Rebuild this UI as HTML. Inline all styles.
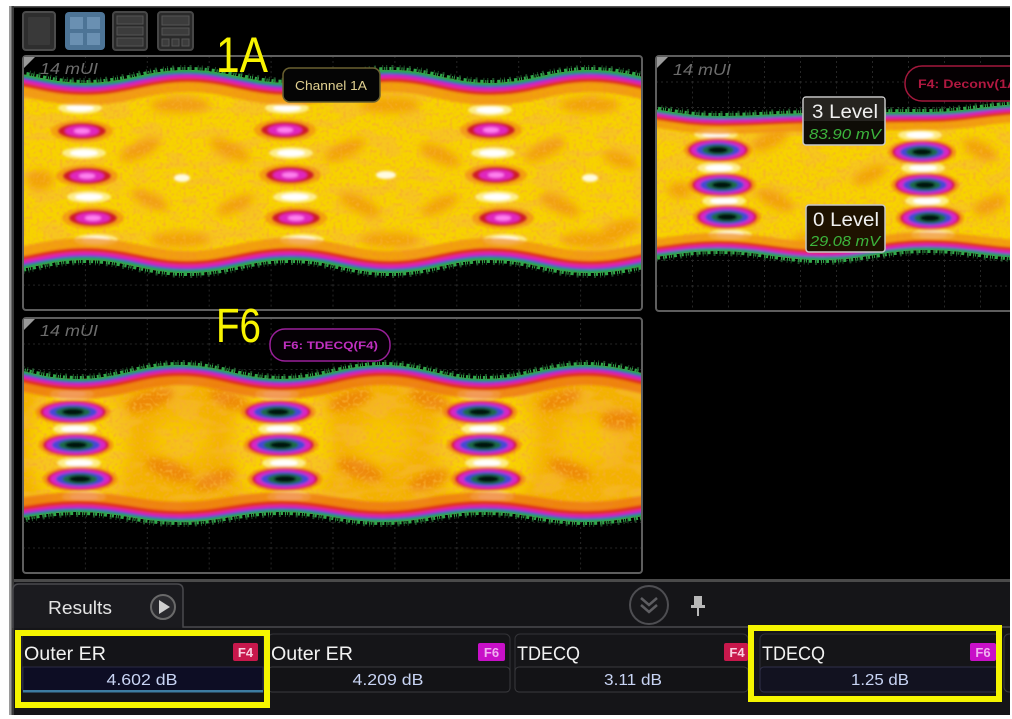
<!DOCTYPE html>
<html><head><meta charset="utf-8"><style>html,body{margin:0;padding:0;background:#fff}svg{display:block}</style></head>
<body>
<svg width="1012" height="719" viewBox="0 0 1012 719" xmlns="http://www.w3.org/2000/svg" font-family="'Liberation Sans', sans-serif">
<defs>
<path id="b1" d="M -17.5,70 C 23.5,70 44,83 85,83 C 126,83 146.5,70 187.5,70 C 228.5,70 249,83 290,83 C 330,83 350,70 390,70 C 430,70 450,83 490,83 C 530,83 550,70 590,70 C 631,70 651,83 692,83 L 692,260 C 651,260 631,273 590,273 C 550,273 530,260 490,260 C 450,260 430,273 390,273 C 350,273 330,260 290,260 C 249,260 228.5,273 187.5,273 C 146.5,273 126,260 85,260 C 44,260 23.5,273 -17.5,273 Z"/>
<path id="b4" d="M 614,106 C 655.6,106 676.4,116 718,116 C 759.6,116 780.4,113 822,113 C 863.6,113 885.4,112 927,112 C 968.6,112 989.4,104 1031,104 L 1031,258 C 989.4,258 968.6,250 927,250 C 885.4,250 863.6,260 822,260 C 780.4,260 759.6,251 718,251 C 676.4,251 655.6,260 614,260 Z"/>
<path id="b6" d="M -24,365 C 16.8,365 37.2,379 78,379 C 118.8,379 139.2,365 180,365 C 220.8,365 241.2,379 282,379 C 322.4,379 342.6,365 383,365 C 423.4,365 443.6,379 484,379 C 524.8,379 545.2,365 586,365 C 626.8,365 647.2,379 688,379 L 688,512 C 647.2,512 626.8,522 586,522 C 545.2,522 524.8,512 484,512 C 443.6,512 423.4,522 383,522 C 342.6,522 322.4,512 282,512 C 241.2,512 220.8,522 180,522 C 139.2,522 118.8,512 78,512 C 37.2,512 16.8,522 -24,522 Z"/>
<clipPath id="c1"><rect x="24" y="57" width="617" height="252"/></clipPath>
<clipPath id="c4"><rect x="657" y="57" width="353" height="253"/></clipPath>
<clipPath id="c6"><rect x="24" y="319" width="617" height="253"/></clipPath>
<clipPath id="cb1"><use href="#b1"/></clipPath>
<clipPath id="cb4"><use href="#b4"/></clipPath>
<clipPath id="cb6"><use href="#b6"/></clipPath>
<filter id="bl" x="-50%" y="-50%" width="200%" height="200%"><feGaussianBlur stdDeviation="1.3"/></filter>
<filter id="bl4" x="-50%" y="-50%" width="200%" height="200%"><feGaussianBlur stdDeviation="4"/></filter>
<filter id="bl8" x="-50%" y="-50%" width="200%" height="200%"><feGaussianBlur stdDeviation="8"/></filter>
<filter id="spk" x="0" y="0" width="1" height="1"><feTurbulence type="fractalNoise" baseFrequency="0.3" numOctaves="1" seed="4"/><feColorMatrix type="matrix" values="0 0 0 0 0.93  0 0 0 0 0.42  0 0 0 0 0.03  3.2 0 0 0 -1.5"/></filter>
<filter id="blt" x="0" y="0" width="1" height="1"><feTurbulence type="fractalNoise" baseFrequency="0.03 0.07" numOctaves="2" seed="9"/><feColorMatrix type="matrix" values="0 0 0 0 0.93  0 0 0 0 0.5  0 0 0 0 0.04  6 0 0 0 -2.9"/></filter>
<pattern id="g1" patternUnits="userSpaceOnUse" x="23" y="56" width="61.9" height="25.4"><path d="M0.5 0V25.4M0 0.5H61.9" stroke="#262626" stroke-width="1" stroke-dasharray="2 3" fill="none"/></pattern>
<pattern id="g6" patternUnits="userSpaceOnUse" x="23" y="318" width="61.9" height="25.5"><path d="M0.5 0V25.5M0 0.5H61.9" stroke="#262626" stroke-width="1" stroke-dasharray="2 3" fill="none"/></pattern>
<pattern id="g4" patternUnits="userSpaceOnUse" x="656" y="56" width="36" height="25.5"><path d="M0.5 0V25.5M0 0.5H36" stroke="#262626" stroke-width="1" stroke-dasharray="2 3" fill="none"/></pattern>
<g id="o1">
<ellipse rx="31" ry="11" fill="#f07a18" opacity=".55"/>
<ellipse rx="24" ry="8" fill="#d01c28"/>
<ellipse rx="17" ry="5.5" fill="#e028c0"/>
<ellipse rx="8" ry="2.6" fill="#ff80f0"/>
</g>
<g id="o4">
<ellipse rx="34" ry="13" fill="#f06a10" opacity=".55"/>
<ellipse rx="30" ry="11" fill="#d8183c"/>
<ellipse rx="27" ry="9.5" fill="#d828c8"/>
<ellipse rx="22" ry="7.5" fill="#4646d8"/>
<ellipse rx="16" ry="5.5" fill="#1c6a48"/>
<ellipse rx="10" ry="3.5" fill="#061208"/>
</g>
<g id="ws"><ellipse rx="22" ry="6" fill="#fff6a8" opacity=".8"/><ellipse rx="14" ry="3.5" fill="#ffffff"/></g>
</defs>

<rect width="1012" height="719" fill="#000"/>
<rect x="9" y="6" width="1001" height="1.5" fill="#555"/>
<rect x="9" y="6" width="2.5" height="713" fill="#9a9a9a"/>
<rect x="11.5" y="6" width="2.5" height="713" fill="#3a3a3a"/>

<rect x="23" y="12" width="32" height="38" rx="3" fill="#2e2e2e" stroke="#4c4c4c" stroke-width="2"/>
<rect x="28" y="17" width="22" height="28" rx="1" fill="#393939"/>
<rect x="65" y="12" width="40" height="38" rx="4" fill="#4d7496"/>
<rect x="70" y="17" width="13" height="12" fill="#6a90b2"/><rect x="87" y="17" width="13" height="12" fill="#6a90b2"/>
<rect x="70" y="33" width="13" height="12" fill="#6a90b2"/><rect x="87" y="33" width="13" height="12" fill="#6a90b2"/>
<rect x="113" y="12" width="34" height="38" rx="3" fill="#2a2a2a" stroke="#474747" stroke-width="2"/>
<rect x="117" y="16" width="26" height="8" fill="#3c3c3c" stroke="#555" stroke-width="1"/>
<rect x="117" y="27" width="26" height="8" fill="#3c3c3c" stroke="#555" stroke-width="1"/>
<rect x="117" y="38" width="26" height="8" fill="#3c3c3c" stroke="#555" stroke-width="1"/>
<rect x="158" y="12" width="35" height="38" rx="3" fill="#2a2a2a" stroke="#474747" stroke-width="2"/>
<rect x="162" y="16" width="27" height="9" fill="#3c3c3c" stroke="#555" stroke-width="1"/>
<rect x="162" y="28" width="27" height="7" fill="#3c3c3c" stroke="#555" stroke-width="1"/>
<rect x="162" y="39" width="7" height="7" fill="#3c3c3c" stroke="#555" stroke-width="1"/>
<rect x="172" y="39" width="7" height="7" fill="#3c3c3c" stroke="#555" stroke-width="1"/>
<rect x="182" y="39" width="7" height="7" fill="#3c3c3c" stroke="#555" stroke-width="1"/>

<!-- Panel 1A -->
<g clip-path="url(#c1)">
<rect x="23" y="56" width="620" height="255" fill="url(#g1)"/>
<use href="#b1" fill="#f7d200"/>
<g clip-path="url(#cb1)">
<rect x="24" y="60" width="617" height="220" filter="url(#blt)" opacity=".55"/>
<g filter="url(#bl4)" fill="#ee8410" opacity=".6">
<ellipse cx="140" cy="150" rx="22" ry="8" transform="rotate(-25 140 150)"/>
<ellipse cx="150" cy="200" rx="20" ry="7" transform="rotate(25 150 200)"/>
<ellipse cx="230" cy="150" rx="22" ry="8" transform="rotate(25 230 150)"/>
<ellipse cx="235" cy="205" rx="20" ry="7" transform="rotate(-25 235 205)"/>
<ellipse cx="345" cy="150" rx="22" ry="8" transform="rotate(-25 345 150)"/>
<ellipse cx="360" cy="205" rx="22" ry="8" transform="rotate(25 360 205)"/>
<ellipse cx="440" cy="155" rx="22" ry="8" transform="rotate(25 440 155)"/>
<ellipse cx="440" cy="205" rx="20" ry="7" transform="rotate(-25 440 205)"/>
<ellipse cx="545" cy="150" rx="22" ry="8" transform="rotate(-25 545 150)"/>
<ellipse cx="560" cy="205" rx="22" ry="8" transform="rotate(25 560 205)"/>
<ellipse cx="620" cy="160" rx="18" ry="7" transform="rotate(20 620 160)"/>
<ellipse cx="620" cy="230" rx="22" ry="9" transform="rotate(-20 620 230)"/>
<ellipse cx="180" cy="240" rx="30" ry="8"/><ellipse cx="390" cy="240" rx="30" ry="8"/><ellipse cx="590" cy="240" rx="30" ry="8"/>
<ellipse cx="180" cy="105" rx="30" ry="8"/><ellipse cx="390" cy="105" rx="30" ry="8"/><ellipse cx="590" cy="105" rx="30" ry="8"/>
<ellipse cx="40" cy="180" rx="14" ry="10"/>
</g>
<rect x="24" y="60" width="617" height="220" filter="url(#spk)" opacity=".7"/>
<g filter="url(#bl)">
<use href="#ws" x="80" y="108"/><use href="#ws" x="84" y="153"/><use href="#ws" x="89" y="197"/><use href="#ws" x="96" y="240"/>
<use href="#ws" x="287" y="108"/><use href="#ws" x="291" y="153"/><use href="#ws" x="295" y="197"/><use href="#ws" x="302" y="240"/>
<use href="#ws" x="490" y="110"/><use href="#ws" x="493" y="153"/><use href="#ws" x="497" y="197"/><use href="#ws" x="505" y="240"/>
<ellipse cx="182" cy="178" rx="8" ry="4" fill="#fffbe0"/><ellipse cx="386" cy="175" rx="10" ry="4" fill="#fffbe0"/><ellipse cx="590" cy="178" rx="8" ry="4" fill="#fffbe0"/>
<use href="#o1" x="82" y="131"/><use href="#o1" x="87" y="176"/><use href="#o1" x="93" y="218"/>
<use href="#o1" x="285" y="130"/><use href="#o1" x="290" y="175"/><use href="#o1" x="296" y="218"/>
<use href="#o1" x="491" y="130"/><use href="#o1" x="496" y="175"/><use href="#o1" x="503" y="218"/>
</g>
</g>
<use href="#b1" fill="none" stroke="#30a848" stroke-width="6" stroke-dasharray="1 2 2 1 1 3 3 2 1 1"/>
<use href="#b1" fill="none" stroke="#3c9c50" stroke-width="10" stroke-dasharray="1 4 2 6 1 3" opacity=".5"/>
<g clip-path="url(#cb1)"><g filter="url(#bl)">
<use href="#b1" fill="none" stroke="#f08a10" stroke-width="44" opacity=".7"/>
<use href="#b1" fill="none" stroke="#e02e1c" stroke-width="24"/>
<use href="#b1" fill="none" stroke="#e024b8" stroke-width="16"/>
<use href="#b1" fill="none" stroke="#3838d8" stroke-width="10"/>
<use href="#b1" fill="none" stroke="#2ea448" stroke-width="6"/>
</g></g>
</g>
<rect x="23" y="56" width="619" height="254" rx="3" fill="none" stroke="#5e5e5e" stroke-width="2"/>
<polygon points="24,57 35,57 24,68" fill="#9a9a9a"/>
<text x="40" y="74" font-size="16" font-style="italic" fill="#6c6c6c" textLength="58" lengthAdjust="spacingAndGlyphs">14 mUI</text>
<rect x="283" y="68" width="97" height="34" rx="7" fill="#050505" stroke="#6a6030" stroke-width="1.5"/>
<text x="295" y="90" font-size="13" fill="#e0d090" textLength="72" lengthAdjust="spacingAndGlyphs">Channel 1A</text>

<!-- Panel F4 -->
<g clip-path="url(#c4)">
<rect x="656" y="56" width="360" height="256" fill="url(#g4)"/>
<use href="#b4" fill="#f7d200"/>
<g clip-path="url(#cb4)">
<rect x="657" y="100" width="353" height="165" filter="url(#blt)" opacity=".5"/>
<g filter="url(#bl4)" fill="#ee8410" opacity=".6">
<ellipse cx="770" cy="140" rx="20" ry="8" transform="rotate(-25 770 140)"/>
<ellipse cx="775" cy="200" rx="20" ry="8" transform="rotate(25 775 200)"/>
<ellipse cx="870" cy="175" rx="18" ry="7" transform="rotate(-25 870 175)"/>
<ellipse cx="980" cy="150" rx="18" ry="8" transform="rotate(25 980 150)"/>
<ellipse cx="990" cy="205" rx="18" ry="8" transform="rotate(-25 990 205)"/>
<ellipse cx="680" cy="190" rx="12" ry="8"/>
<ellipse cx="822" cy="125" rx="30" ry="7"/><ellipse cx="822" cy="240" rx="30" ry="7"/>
</g>
<rect x="657" y="100" width="353" height="165" filter="url(#spk)" opacity=".7"/>
<g filter="url(#bl)">
<use href="#ws" x="716" y="134"/><use href="#ws" x="719" y="168"/><use href="#ws" x="724" y="201"/><use href="#ws" x="730" y="235"/>
<use href="#ws" x="920" y="135"/><use href="#ws" x="923" y="168"/><use href="#ws" x="927" y="201"/><use href="#ws" x="933" y="235"/>
<use href="#o4" x="718" y="150"/><use href="#o4" x="722" y="185"/><use href="#o4" x="727" y="217"/>
<use href="#o4" x="922" y="152"/><use href="#o4" x="925" y="185"/><use href="#o4" x="930" y="218"/>
</g>
</g>
<use href="#b4" fill="none" stroke="#30a848" stroke-width="6" stroke-dasharray="1 2 2 1 1 3 3 2 1 1"/>
<use href="#b4" fill="none" stroke="#3c9c50" stroke-width="10" stroke-dasharray="1 4 2 6 1 3" opacity=".5"/>
<g clip-path="url(#cb4)"><g filter="url(#bl)">
<use href="#b4" fill="none" stroke="#f08a10" stroke-width="36" opacity=".7"/>
<use href="#b4" fill="none" stroke="#e02e1c" stroke-width="20"/>
<use href="#b4" fill="none" stroke="#e024b8" stroke-width="13"/>
<use href="#b4" fill="none" stroke="#3838d8" stroke-width="8"/>
<use href="#b4" fill="none" stroke="#2ea448" stroke-width="5"/>
</g></g>
<rect x="905" y="66" width="130" height="35" rx="17" fill="#050002" stroke="#a3183c" stroke-width="1.5"/>
<text x="918" y="88" font-size="12" font-weight="bold" fill="#b01840" textLength="104" lengthAdjust="spacingAndGlyphs">F4: Deconv(1A)</text>
</g>
<rect x="656" y="56" width="372" height="255" rx="3" fill="none" stroke="#5e5e5e" stroke-width="2"/>
<polygon points="657,57 668,57 657,68" fill="#9a9a9a"/>
<text x="673" y="75" font-size="16" font-style="italic" fill="#6c6c6c" textLength="58" lengthAdjust="spacingAndGlyphs">14 mUI</text>
<rect x="803" y="97" width="82" height="48" rx="3" fill="#0e0c06" stroke="#c8c8c8" stroke-width="1.5"/>
<rect x="804" y="98" width="80" height="23" fill="#262420"/>
<text x="812" y="118" font-size="19" fill="#f0f0f0" textLength="66" lengthAdjust="spacingAndGlyphs">3 Level</text>
<text x="809" y="139" font-size="15" font-style="italic" fill="#3cb43c" textLength="72" lengthAdjust="spacingAndGlyphs">83.90 mV</text>
<rect x="806" y="205" width="79" height="47" rx="3" fill="#1e1200" stroke="#c8c8c8" stroke-width="1.5"/>
<text x="813" y="226" font-size="19" fill="#f0f0f0" textLength="66" lengthAdjust="spacingAndGlyphs">0 Level</text>
<text x="810" y="246" font-size="15" font-style="italic" fill="#3cb43c" textLength="70" lengthAdjust="spacingAndGlyphs">29.08 mV</text>

<!-- Panel F6 -->
<g clip-path="url(#c6)">
<rect x="23" y="318" width="620" height="256" fill="url(#g6)"/>
<use href="#b6" fill="#f3b200"/>
<g clip-path="url(#cb6)">
<g filter="url(#bl8)" fill="#f8d200">
<ellipse cx="78" cy="445" rx="50" ry="70"/><ellipse cx="282" cy="445" rx="50" ry="70"/><ellipse cx="486" cy="445" rx="50" ry="70"/>
<ellipse cx="180" cy="440" rx="30" ry="25" opacity=".6"/><ellipse cx="383" cy="440" rx="30" ry="25" opacity=".6"/><ellipse cx="586" cy="440" rx="30" ry="25" opacity=".6"/>
</g>
<rect x="24" y="360" width="617" height="170" filter="url(#blt)" opacity=".55"/>
<g filter="url(#bl4)" fill="#e86010" opacity=".5">
<ellipse cx="150" cy="400" rx="25" ry="9" transform="rotate(-20 150 400)"/>
<ellipse cx="170" cy="470" rx="25" ry="9" transform="rotate(20 170 470)"/>
<ellipse cx="230" cy="400" rx="22" ry="8" transform="rotate(20 230 400)"/>
<ellipse cx="215" cy="480" rx="22" ry="8" transform="rotate(-20 215 480)"/>
<ellipse cx="350" cy="400" rx="22" ry="8" transform="rotate(-20 350 400)"/>
<ellipse cx="360" cy="470" rx="24" ry="9" transform="rotate(20 360 470)"/>
<ellipse cx="430" cy="400" rx="22" ry="8" transform="rotate(20 430 400)"/>
<ellipse cx="430" cy="480" rx="22" ry="8" transform="rotate(-20 430 480)"/>
<ellipse cx="560" cy="400" rx="22" ry="8" transform="rotate(-20 560 400)"/>
<ellipse cx="570" cy="470" rx="22" ry="8" transform="rotate(20 570 470)"/>
<ellipse cx="620" cy="420" rx="20" ry="10"/>
</g>
<rect x="24" y="360" width="617" height="170" filter="url(#spk)" opacity=".8"/>
<g filter="url(#bl)">
<use href="#ws" x="72" y="394"/><use href="#ws" x="75" y="429"/><use href="#ws" x="79" y="463"/><use href="#ws" x="84" y="497"/>
<use href="#ws" x="277" y="394"/><use href="#ws" x="280" y="429"/><use href="#ws" x="284" y="463"/><use href="#ws" x="289" y="497"/>
<use href="#ws" x="479" y="394"/><use href="#ws" x="483" y="429"/><use href="#ws" x="487" y="463"/><use href="#ws" x="492" y="497"/>
<use href="#o4" transform="translate(73,412) scale(1.1,1)"/><use href="#o4" transform="translate(76,445) scale(1.1,1)"/><use href="#o4" transform="translate(80,479) scale(1.1,1)"/>
<use href="#o4" transform="translate(278,412) scale(1.1,1)"/><use href="#o4" transform="translate(281,445) scale(1.1,1)"/><use href="#o4" transform="translate(285,479) scale(1.1,1)"/>
<use href="#o4" transform="translate(480,412) scale(1.1,1)"/><use href="#o4" transform="translate(484,445) scale(1.1,1)"/><use href="#o4" transform="translate(488,479) scale(1.1,1)"/>
</g>
</g>
<use href="#b6" fill="none" stroke="#30a848" stroke-width="6" stroke-dasharray="1 2 2 1 1 3 3 2 1 1"/>
<use href="#b6" fill="none" stroke="#3c9c50" stroke-width="10" stroke-dasharray="1 4 2 6 1 3" opacity=".5"/>
<g clip-path="url(#cb6)"><g filter="url(#bl)">
<use href="#b6" fill="none" stroke="#ec7010" stroke-width="40" opacity=".7"/>
<use href="#b6" fill="none" stroke="#e02e1c" stroke-width="22"/>
<use href="#b6" fill="none" stroke="#e024b8" stroke-width="14"/>
<use href="#b6" fill="none" stroke="#3838d8" stroke-width="9"/>
<use href="#b6" fill="none" stroke="#2ea448" stroke-width="5"/>
</g></g>
</g>
<rect x="23" y="318" width="619" height="255" rx="3" fill="none" stroke="#5e5e5e" stroke-width="2"/>
<polygon points="24,319 35,319 24,330" fill="#9a9a9a"/>
<text x="40" y="336" font-size="16" font-style="italic" fill="#6c6c6c" textLength="58" lengthAdjust="spacingAndGlyphs">14 mUI</text>
<rect x="270" y="329" width="120" height="32" rx="15" fill="#050005" stroke="#9a209a" stroke-width="1.5"/>
<text x="283" y="349" font-size="11" font-weight="bold" fill="#c030c0" textLength="95" lengthAdjust="spacingAndGlyphs">F6: TDECQ(F4)</text>

<text x="216" y="72" font-size="50" fill="#f8f400" textLength="52" lengthAdjust="spacingAndGlyphs">1A</text>
<text x="216" y="342" font-size="48" fill="#f8f400" textLength="45" lengthAdjust="spacingAndGlyphs">F6</text>

<!-- Results area -->
<rect x="14" y="579" width="996" height="3" fill="#4a4a4a"/>
<rect x="14" y="582" width="996" height="133" fill="#151518"/>
<path d="M13,628 L13,590 Q13,584 19,584 L177,584 Q183,584 183,590 L183,627 L1010,627" fill="#1b1b1f" stroke="#4a4a4e" stroke-width="1.5"/>
<rect x="14" y="629" width="996" height="86" fill="#151518"/>
<text x="48" y="614" font-size="18" fill="#e4e4e4" textLength="64" lengthAdjust="spacingAndGlyphs">Results</text>
<circle cx="163" cy="607" r="12" fill="#2a2a2e" stroke="#6a6a6a" stroke-width="2"/>
<polygon points="159,600 170,607 159,614" fill="#cfcfcf"/>
<circle cx="649" cy="605" r="19" fill="#18181b" stroke="#4e4e52" stroke-width="2"/>
<polyline points="641,598 649,605 657,598" fill="none" stroke="#5e5e62" stroke-width="2.5"/>
<polyline points="641,605 649,612 657,605" fill="none" stroke="#5e5e62" stroke-width="2.5"/>
<rect x="694" y="596" width="8" height="10" fill="#b8b8b8"/>
<rect x="691" y="605" width="14" height="3" fill="#b8b8b8"/>
<rect x="697" y="608" width="2" height="8" fill="#b8b8b8"/>

<rect x="22" y="634" width="242" height="58" rx="4" fill="#141418" stroke="#2c2c3a" stroke-width="1"/>
<rect x="23" y="667" width="240" height="25" fill="#0d0d24" stroke="#2a2a44" stroke-width="1"/>
<rect x="23" y="690" width="240" height="2.5" fill="#3d7ca0"/>
<text x="24" y="660" font-size="19" fill="#f2f2f2" textLength="82" lengthAdjust="spacingAndGlyphs">Outer ER</text>
<rect x="233" y="643" width="25" height="18" rx="2" fill="#c8184c"/>
<text x="245.5" y="657" font-size="13" font-weight="bold" fill="#f8d0e0" text-anchor="middle">F4</text>
<text x="142" y="685" font-size="16" fill="#c8d4f4" text-anchor="middle" textLength="71" lengthAdjust="spacingAndGlyphs">4.602 dB</text>

<rect x="268" y="634" width="242" height="58" rx="5" fill="#151518" stroke="#343438" stroke-width="1"/>
<rect x="268" y="667" width="242" height="25" rx="4" fill="#131316" stroke="#3a3a3e" stroke-width="1"/>
<text x="271" y="660" font-size="19" fill="#f2f2f2" textLength="82" lengthAdjust="spacingAndGlyphs">Outer ER</text>
<rect x="478" y="643" width="27" height="18" rx="2" fill="#c810c8"/>
<text x="491.5" y="657" font-size="13" font-weight="bold" fill="#f0b0f0" text-anchor="middle">F6</text>
<text x="388" y="685" font-size="16" fill="#c8d4f4" text-anchor="middle" textLength="71" lengthAdjust="spacingAndGlyphs">4.209 dB</text>

<rect x="515" y="634" width="233" height="58" rx="5" fill="#151518" stroke="#343438" stroke-width="1"/>
<rect x="515" y="667" width="233" height="25" rx="4" fill="#131316" stroke="#3a3a3e" stroke-width="1"/>
<text x="517" y="660" font-size="19" fill="#f2f2f2" textLength="63" lengthAdjust="spacingAndGlyphs">TDECQ</text>
<rect x="724" y="643" width="24" height="18" rx="2" fill="#c8184c"/>
<text x="737" y="657" font-size="13" font-weight="bold" fill="#f8d0e0" text-anchor="middle">F4</text>
<text x="633" y="685" font-size="16" fill="#c8d4f4" text-anchor="middle" textLength="58" lengthAdjust="spacingAndGlyphs">3.11 dB</text>

<rect x="760" y="634" width="240" height="58" rx="5" fill="#151518" stroke="#2e2e3a" stroke-width="1"/>
<rect x="760" y="667" width="240" height="25" rx="4" fill="#121220" stroke="#30304a" stroke-width="1"/>
<text x="762" y="660" font-size="19" fill="#f2f2f2" textLength="63" lengthAdjust="spacingAndGlyphs">TDECQ</text>
<rect x="970" y="643" width="26" height="18" rx="2" fill="#c810c8"/>
<text x="983" y="657" font-size="13" font-weight="bold" fill="#f0b0f0" text-anchor="middle">F6</text>
<text x="880" y="685" font-size="16" fill="#c8d4f4" text-anchor="middle" textLength="58" lengthAdjust="spacingAndGlyphs">1.25 dB</text>
<rect x="1004" y="634" width="40" height="58" rx="5" fill="#151518" stroke="#3a3a3e" stroke-width="1"/>

<rect x="18" y="633" width="249" height="72" fill="none" stroke="#f5f500" stroke-width="6"/>
<rect x="751" y="628" width="248" height="71" fill="none" stroke="#f5f500" stroke-width="6"/>

<rect x="0" y="0" width="1012" height="6" fill="#fff"/>
<rect x="0" y="0" width="9" height="719" fill="#fff"/>
<rect x="1010" y="0" width="2" height="719" fill="#fff"/>
<rect x="0" y="715" width="1012" height="4" fill="#fff"/>
</svg>
</body></html>
